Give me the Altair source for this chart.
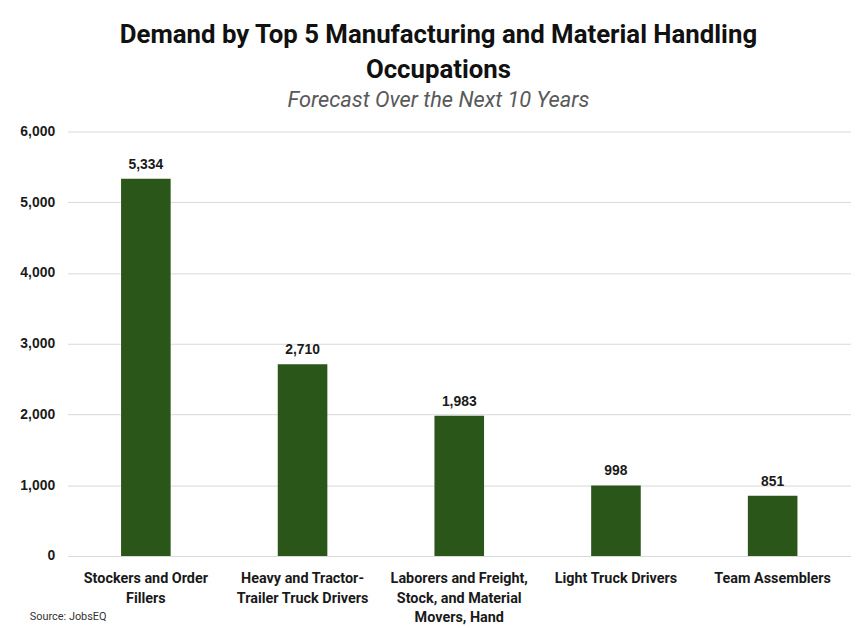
import altair as alt
import pandas as pd

categories = [
    "Stockers and Order Fillers",
    "Heavy and Tractor-Trailer Truck Drivers",
    "Laborers and Freight, Stock, and Material Movers, Hand",
    "Light Truck Drivers",
    "Team Assemblers",
]
values = [5334, 2710, 1983, 998, 851]
label_lines = [
    ["Stockers and Order", "Fillers"],
    ["Heavy and Tractor-", "Trailer Truck Drivers"],
    ["Laborers and Freight,", "Stock, and Material", "Movers, Hand"],
    ["Light Truck Drivers"],
    ["Team Assemblers"],
]
y_ticks = [0, 1000, 2000, 3000, 4000, 5000, 6000]
title_lines = ["Demand by Top 5 Manufacturing and Material Handling", "Occupations"]
subtitle = "Forecast Over the Next 10 Years"
source = "Source: JobsEQ"

df = pd.DataFrame({"occupation": categories, "demand": values})

W, H = 790, 428
BAR = "#2B561A"
GRID = "#d9d9d9"

expr = ""
for c, lines in zip(categories, label_lines):
    arr = "[" + ",".join("'" + l + "'" for l in lines) + "]"
    expr += f"datum.label == '{c}' ? {arr} : "
expr += "datum.label"

base = alt.Chart(df)

bars = base.mark_bar(color=BAR, size=50).encode(
    x=alt.X(
        "occupation:N",
        sort=categories,
        title=None,
        scale=alt.Scale(paddingInner=0, paddingOuter=0),
        axis=alt.Axis(
            labelAngle=0,
            labelExpr=expr,
            labelFont="Roboto",
            labelFontWeight="bold",
            labelFontSize=14.5,
            labelColor="#1a1a1a",
            labelLineHeight=19.5,
            labelPadding=16,
            labelBaseline="top",
            ticks=False,
            domainColor=GRID,
            labelLimit=300,
        ),
    ),
    y=alt.Y(
        "demand:Q",
        title=None,
        scale=alt.Scale(domain=[0, 6000], nice=False),
        axis=alt.Axis(
            values=y_ticks,
            format=",.0f",
            labelFont="Liberation Sans",
            labelFontWeight="bold",
            labelFontSize=14,
            labelColor="#1a1a1a",
            labelPadding=13,
            ticks=False,
            domain=False,
            gridColor=GRID,
        ),
    ),
)

labels = base.mark_text(
    font="Liberation Sans", fontWeight="bold", fontSize=14, color="#1a1a1a",
    baseline="bottom", dy=-7,
).encode(
    x=alt.X("occupation:N", sort=categories),
    y="demand:Q",
    text=alt.Text("demand:Q", format=",.0f"),
)

src = alt.Chart(pd.DataFrame({"t": [source]})).mark_text(
    font="Roboto", fontSize=11, color="#333333", align="left", baseline="middle"
).encode(text="t:N", x=alt.value(-38), y=alt.value(H + 62))

chart = alt.layer(bars, labels, src).properties(
    width=W,
    height=H,
    autosize=alt.AutoSizeParams(type="none"),
    padding={"left": 60, "top": 122, "right": 0, "bottom": 68},
    title=alt.TitleParams(
        text=title_lines,
        subtitle=subtitle,
        anchor="middle",
        frame="group",
        font="Roboto",
        fontSize=26,
        fontWeight="bold",
        color="#111111",
        lineHeight=35,
        subtitleFont="Roboto",
        subtitleFontSize=22,
        subtitleFontStyle="italic",
        subtitleColor="#595959",
        subtitlePadding=7,
        offset=14,
        dx=-21,
    ),
).configure_view(stroke=None)

chart.save("out.html", embed_options={"renderer": "svg", "actions": False})
